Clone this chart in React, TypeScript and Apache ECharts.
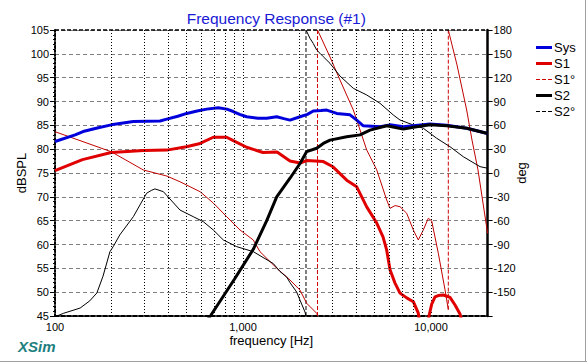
import React, { useEffect, useRef } from 'react';
import * as echarts from 'echarts';

// ---- data ----
const sysFreq = [100, 128, 141, 170, 199, 261, 362, 393, 450, 502, 570, 641, 739, 820, 888, 960, 1046, 1200, 1337, 1511, 1650, 1778, 2010, 2200, 2365, 2600, 2788, 3151, 3709, 4026, 4364, 5356, 6053, 7123, 8053, 9879, 12121, 15480, 20000];
const sysDb = [81.6, 83.0, 83.7, 84.5, 85.1, 85.8, 85.9, 86.3, 86.9, 87.5, 88.0, 88.4, 88.7, 88.4, 87.9, 87.3, 86.8, 86.5, 86.5, 86.8, 86.4, 86.1, 86.8, 87.3, 88.0, 88.1, 88.2, 87.5, 87.2, 86.1, 84.9, 84.7, 85.1, 84.7, 84.9, 85.3, 85.0, 84.4, 83.3];

const s1Freq = [100, 140, 199, 295, 393, 500, 591, 695, 819, 888, 1046, 1277, 1517, 1778, 2010, 2182, 2674, 3010, 3561, 4026, 4550, 5144, 5555, 5813, 6053, 6435, 6840, 7425, 8053, 8558, 8800, 9200, 9550, 9759, 10086, 10503, 10935, 11627, 12620, 13420, 14265, 15000, 16000];
const s1Db = [75.5, 77.8, 79.3, 79.7, 79.8, 80.5, 81.2, 82.5, 82.5, 81.8, 80.4, 79.3, 79.4, 77.5, 77.1, 77.6, 77.4, 76.3, 73.5, 72.1, 67.9, 64.5, 61.6, 58.8, 54.7, 51.9, 49.8, 48.8, 48.0, 45.6, 42, 40, 42.5, 45, 47.5, 49.0, 49.3, 49.4, 48.9, 47.3, 45.4, 42, 38];

const s1PhFreq = [100, 199, 295, 393, 462, 591, 695, 819, 964, 1134, 1231, 1511, 1778, 2010, 2182, 2466, 2491, 2491, 2903, 3281, 3861, 4026, 4550, 5144, 5813, 6053, 6440, 6840, 7425, 8053, 8558, 9100, 9674, 10086, 10935, 11872, 12360, 12360, 13750, 15480, 16520, 17780, 20000];
const s1Ph = [52, 26.8, 3.8, -3.8, -11, -23.5, -37.8, -55, -71.7, -84.3, -99, -119.8, -134.7, -147.4, -164, -176.6, -180, 180, 146, 117, 79.3, 66.7, 29, 4, -34, -44.5, -41, -42.4, -50.7, -71.7, -84.3, -71.7, -57, -60.4, -101, -147, -172, 180, 136, 79.3, 41.5, 3.8, -76];

const s2Freq = [650, 676, 900, 1134, 1337, 1511, 1778, 2010, 2182, 2466, 2674, 2903, 3561, 4192, 4737, 5813, 7123, 8053, 9879, 12121, 15480, 20000];
const s2Db = [44.3, 45.2, 52.7, 59, 65, 70, 73.9, 77.0, 79.5, 80.2, 81.2, 81.9, 82.6, 83.0, 84.0, 84.9, 84.2, 84.6, 85.1, 84.9, 84.4, 83.3];

const s2PhFreq = [100, 111, 136, 153, 167, 180, 196, 204, 221, 261, 285, 307, 325, 340, 377, 462, 544, 615, 695, 786, 926, 1134, 1450, 1573, 1708, 1778, 1931, 2010, 2137, 2163, 2163, 2272, 2365, 2466, 2568, 2674, 2903, 3281, 3861, 4550, 5356, 6303, 6840, 8053, 9100, 10723, 12620, 14850, 18230, 20000];
const s2Ph = [-181, -176.6, -170, -161, -151, -130, -99, -92.7, -78, -55, -39, -25.5, -22, -20, -23.5, -46.6, -55, -61.3, -71.7, -84.3, -92.7, -99, -114, -124, -131, -138, -150, -160, -175, -180, 180, 169.5, 163, 154.8, 150.7, 146.4, 138, 122, 106.6, 98.2, 87.7, 73, 66.7, 60.4, 56.3, 43.7, 33.1, 20.5, 8, 6];

const minorGridFreqs = [200, 300, 400, 500, 600, 700, 800, 900, 2000, 3000, 4000, 5000, 6000, 7000, 8000, 9000];
const legendNames = ['Sys', 'S1', 'S1°', 'S2', 'S2°'];
const legendDashed = [false, false, true, false, true];
const legendColors = ['#0000dc', '#e00000', '#d00000', '#000000', '#000000'];

const FONT = 'Liberation Sans, Arial, sans-serif';
const THICK_ICON = 'path://M0,0M16,5M0,1h16v3h-16z';
const DASH_ICON = 'path://M0,0M16,5M0,2h4v1h-4z M6,2h4v1h-4z M12,2h4v1h-4z';

function pairs(f: number[], v: number[]) {
  return f.map((x, i) => [x, v[i]]);
}

function splitWraps(f: number[], v: number[]) {
  const solid: any[] = [];
  const jumps: any[] = [];
  for (let i = 0; i < f.length; i++) {
    if (i > 0 && Math.abs(v[i] - v[i - 1]) > 180) {
      solid.push([f[i], '-']);
      jumps.push([f[i - 1], v[i - 1]], [f[i], v[i]], [f[i], '-']);
    }
    solid.push([f[i], v[i]]);
  }
  return { solid, jumps };
}

export default function App() {
  const ref = useRef<HTMLDivElement>(null);
  useEffect(() => {
    document.body.style.margin = '0';
    const chart = echarts.init(ref.current!, null, { renderer: 'svg' });
    const p1 = splitWraps(s1PhFreq, s1Ph);
    const p2 = splitWraps(s2PhFreq, s2Ph);
    const option: any = {
      animation: false,
      textStyle: { fontFamily: FONT },
      title: {
        text: 'Frequency Response (#1)',
        left: 271.3,
        top: 5,
        textAlign: 'center',
        textStyle: { color: '#1a1ad6', fontSize: 15.5, fontWeight: 'normal', fontFamily: FONT },
      },
      legend: {
        orient: 'vertical',
        left: 531,
        top: 36,
        itemWidth: 16,
        itemHeight: 5,
        itemGap: 3,
        selectedMode: false,
        itemStyle: { borderWidth: 0 },
        textStyle: { fontSize: 13, color: '#000', fontFamily: FONT, padding: [0, 0, 0, -3] },
        data: legendNames.map((n, i) => ({
          name: n,
          icon: legendDashed[i] ? DASH_ICON : THICK_ICON,
          itemStyle: { color: legendColors[i], borderWidth: 0 },
        })),
      },
      grid: { left: 55, top: 30, width: 432.6, height: 286 },
      xAxis: {
        type: 'log',
        logBase: 10,
        min: 100,
        max: 20000,
        name: 'frequency [Hz]',
        nameLocation: 'middle',
        nameGap: 18,
        nameMoveOverlap: false,
        nameTextStyle: { color: '#000', fontSize: 13, fontFamily: FONT },
        axisLine: { show: true, onZero: false, lineStyle: { color: '#000', width: 2, type: [4, 2] } },
        axisTick: { show: false },
        axisLabel: {
          fontSize: 11,
          color: '#000',
          margin: 5,
          formatter: (v: number) => {
            const l = Math.log10(v);
            if (Math.abs(l - Math.round(l)) > 1e-6) return '';
            return Math.round(v).toLocaleString('en-US');
          },
        },
        splitLine: { show: true, lineStyle: { color: '#000', width: 1, type: [1, 2] } },
      },
      yAxis: [
        {
          type: 'value',
          min: 45,
          max: 105,
          interval: 5,
          position: 'left',
          name: 'dBSPL',
          nameLocation: 'middle',
          nameGap: 27,
          nameMoveOverlap: false,
          nameTextStyle: { color: '#000', fontSize: 13, fontFamily: FONT },
          axisLine: { show: true, onZero: false, lineStyle: { color: '#000', width: 2, type: [2, 2] } },
          axisTick: { show: true, length: 5, lineStyle: { color: '#000' } },
          minorTick: { show: true, splitNumber: 5, length: 2, lineStyle: { color: '#000' } },
          axisLabel: { fontSize: 11, color: '#000', margin: 6 },
          splitLine: { show: true, lineStyle: { color: '#808080', width: 1, type: [4, 3] } },
        },
        {
          type: 'value',
          min: -180,
          max: 180,
          interval: 30,
          position: 'right',
          name: 'deg',
          nameLocation: 'middle',
          nameGap: 27,
          nameMoveOverlap: false,
          nameTextStyle: { color: '#000', fontSize: 13, fontFamily: FONT },
          axisLine: { show: true, onZero: false, lineStyle: { color: '#000', width: 2.5 } },
          axisTick: { show: true, length: 5, lineStyle: { color: '#000' } },
          axisLabel: { fontSize: 11, color: '#000', margin: 6, formatter: (v: number) => (v === -180 ? '' : String(v)) },
          splitLine: { show: false },
        },
      ],
      series: [
        {
          name: 'grid',
          type: 'line',
          z: 1,
          data: [],
          silent: true,
          markLine: {
            silent: true,
            symbol: 'none',
            label: { show: false },
            lineStyle: { color: '#000', width: 1, type: [1, 2] },
            emphasis: { disabled: true },
            data: [
              ...minorGridFreqs.map((f) => ({ xAxis: f })),
              { yAxis: 105, lineStyle: { color: '#000', width: 1.5, type: [4, 2] } },
            ],
          },
        },
        {
          name: 'S1°', type: 'line', yAxisIndex: 1, symbol: 'none', z: 2,
          data: p1.jumps,
          lineStyle: { color: '#d00000', width: 1, type: [4, 2] },
          itemStyle: { color: '#d00000' },
        },
        {
          name: 'S2°', type: 'line', yAxisIndex: 1, symbol: 'none', z: 2,
          data: p2.jumps,
          lineStyle: { color: '#000', width: 1, type: [4, 2] },
          itemStyle: { color: '#000' },
        },
        {
          name: 'S1°', type: 'line', yAxisIndex: 1, symbol: 'none', z: 2,
          data: p1.solid,
          lineStyle: { color: '#c00000', width: 1 },
          itemStyle: { color: '#d00000' },
        },
        {
          name: 'S2°', type: 'line', yAxisIndex: 1, symbol: 'none', z: 2,
          data: p2.solid,
          lineStyle: { color: '#000', width: 1 },
          itemStyle: { color: '#000' },
        },
        {
          name: 'Sys', type: 'line', symbol: 'none', z: 3,
          data: pairs(sysFreq, sysDb),
          lineStyle: { color: '#0000dc', width: 3 },
          itemStyle: { color: '#0000dc' },
        },
        {
          name: 'S1', type: 'line', symbol: 'none', z: 3,
          data: pairs(s1Freq, s1Db),
          lineStyle: { color: '#e00000', width: 3 },
          itemStyle: { color: '#e00000' },
        },
        {
          name: 'S2', type: 'line', symbol: 'none', z: 3,
          data: pairs(s2Freq, s2Db),
          lineStyle: { color: '#000', width: 3 },
          itemStyle: { color: '#000' },
        },
      ],
      graphic: [
        {
          type: 'text', left: 18, top: 339,
          style: { text: 'XSim', fill: '#1e7f7f', font: 'italic bold 15px ' + FONT },
        },
        { type: 'line', shape: { x1: 0, y1: 361.5, x2: 587, y2: 361.5 }, style: { stroke: '#a0a0a0', lineWidth: 1 } },
        { type: 'line', shape: { x1: 585.5, y1: 0, x2: 585.5, y2: 362 }, style: { stroke: '#a0a0a0', lineWidth: 1 } },
      ],
    };
    chart.setOption(option);
    return () => chart.dispose();
  }, []);
  return <div ref={ref} style={{ position: 'absolute', left: 0, top: 0, width: 587, height: 364, background: '#fff' }} />;
}
